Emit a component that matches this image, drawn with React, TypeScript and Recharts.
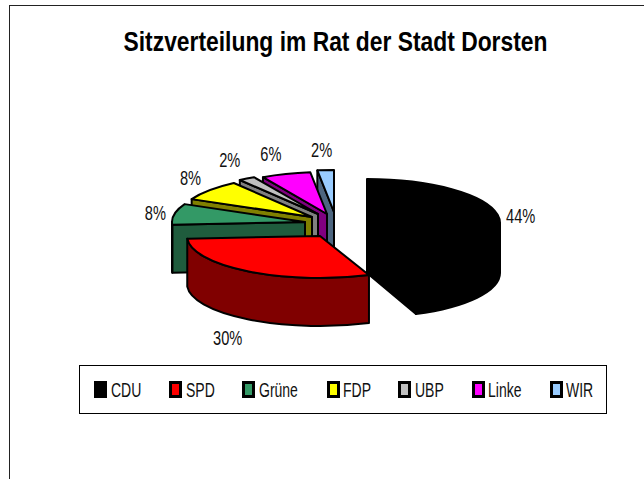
import React from "react";
import { PieChart, Pie, Legend } from "recharts";

const categories = ["CDU", "SPD", "Grüne", "FDP", "UBP", "Linke", "WIR"];
const shares = [44, 30, 8, 8, 2, 6, 2];
const topColors = ["#000000", "#ff0000", "#339966", "#ffff00", "#c0c0c0", "#ff00ff", "#99ccff"];
const wallColors = ["#000000", "#800000", "#1f5c3d", "#808000", "#808080", "#800080", "#4d6680"];
const explode = [[37, 1], [-10, 14], [-25, 0], [-18, -5], [-12, -8], [-3, -8], [4, -10]];
const sliceRy = [44, 42, 42, 42, 42, 42, 42];
const sliceDepth = [50, 48, 48, 48, 48, 48, 48];
const labelNudge = [[23, 1], [-21, 67], [-19, -1], [-19, -12], [-17, -18], [-15, -20], [-4, -20]];
const legendSwatchX = [15, 90, 163, 248, 319, 393, 471];
const legendTextX = [32, 107, 180, 264, 336, 409, 487];

const titleText = "Sitzverteilung im Rat der Stadt Dorsten";
const SANS = '"Liberation Sans", Arial, sans-serif';
const BASE_CX = 330;
const BASE_CY = 222;

// reversed so that back slices paint first
const pieData = categories
  .map((name, i) => ({ name, value: shares[i], idx: i }))
  .reverse();

const rad = (d: number) => (d * Math.PI) / 180;

function Slice(props: any) {
  const { cx, cy, outerRadius: rx, startAngle, endAngle, payload } = props;
  const idx = payload?.idx ?? props.idx;
  const RY = sliceRy[idx];
  const DEPTH = sliceDepth[idx];
  const ox = cx + explode[idx][0];
  const oy = cy + explode[idx][1];
  const sweep = endAngle - startAngle;
  const a0 = ((90 - endAngle) % 360 + 720) % 360;
  const a1 = a0 + sweep;
  const P = (a: number, d = 0) => [ox + rx * Math.sin(rad(a)), oy - RY * Math.cos(rad(a)) + d];
  const f = (p: number[]) => `${p[0].toFixed(2)} ${p[1].toFixed(2)}`;
  const common = { stroke: "#000", strokeWidth: 2, strokeLinejoin: "round" as const };
  const apex = [ox, oy];
  const apexD = [ox, oy + DEPTH];

  const parts: React.ReactNode[] = [];
  if (a0 > 180 && a0 < 360) {
    parts.push(
      <path key="s" {...common} fill={wallColors[idx]}
        d={`M${f(apex)} L${f(P(a0))} L${f(P(a0, DEPTH))} L${f(apexD)} Z`} />
    );
  }
  if (a1 > 0 && a1 <= 180) {
    parts.push(
      <path key="e" {...common} fill={wallColors[idx]}
        d={`M${f(apex)} L${f(P(a1))} L${f(P(a1, DEPTH))} L${f(apexD)} Z`} />
    );
  }
  const r0 = Math.max(a0, 90);
  const r1 = Math.min(a1, 270);
  if (r1 > r0) {
    parts.push(
      <path key="r" {...common} fill={wallColors[idx]}
        d={`M${f(P(r0))} A${rx} ${RY} 0 0 1 ${f(P(r1))} L${f(P(r1, DEPTH))} A${rx} ${RY} 0 0 0 ${f(P(r0, DEPTH))} Z`} />
    );
  }
  parts.push(
    <path key="t" {...common} fill={topColors[idx]}
      d={`M${f(apex)} L${f(P(a0))} A${rx} ${RY} 0 ${sweep > 180 ? 1 : 0} 1 ${f(P(a1))} Z`} />
  );
  return <g>{parts}</g>;
}

function SliceLabel(props: any) {
  const { cx, cy, outerRadius: rx, midAngle, payload } = props;
  const idx = payload?.idx ?? props.idx;
  const a = 90 - midAngle;
  const x = cx + explode[idx][0] + rx * Math.sin(rad(a)) + labelNudge[idx][0];
  const y = cy + explode[idx][1] - sliceRy[idx] * Math.cos(rad(a)) + labelNudge[idx][1];
  return (
    <text transform={`translate(${x} ${y}) scale(0.75 1)`} textAnchor="middle" dominantBaseline="central"
      fontFamily={SANS} fontSize={19.5} fill="#111">
      {`${shares[idx]}%`}
    </text>
  );
}

function LegendBox() {
  return (
    <div style={{ position: "relative", width: 528, height: 49, background: "#fff" }}>
      <div style={{ position: "absolute", inset: 0, border: "1.5px solid #000", boxSizing: "border-box" }} />
      {categories.map((c, i) => (
        <React.Fragment key={c}>
          <div style={{
            position: "absolute", left: legendSwatchX[i], top: 16, width: 13, height: 17,
            boxSizing: "border-box", background: topColors[i], border: "3px solid #000",
          }} />
          <div style={{
            position: "absolute", left: legendTextX[i], top: 15, fontFamily: SANS, fontSize: 20,
            lineHeight: "21px", color: "#111", whiteSpace: "nowrap",
            transform: "scaleX(0.7)", transformOrigin: "left center",
          }}>{c}</div>
        </React.Fragment>
      ))}
    </div>
  );
}

export default function App() {
  return (
    <div style={{ position: "absolute", left: 0, top: 0, width: 644, height: 479, overflow: "hidden", background: "#fff" }}>
      <div style={{ position: "absolute", left: 9, top: 5, width: 700, height: 600, border: "1.5px solid #222", boxSizing: "border-box" }} />
      <div style={{
        position: "absolute", left: 0, width: 671, top: 28, textAlign: "center",
        fontFamily: SANS, fontWeight: "bold", fontSize: 27, lineHeight: "28px", color: "#000", whiteSpace: "nowrap",
        transform: "scaleX(0.846)", transformOrigin: "335.5px 0",
      }}>{titleText}</div>
      <div style={{ position: "absolute", left: 0, top: 0 }}>
        <PieChart width={644} height={479} margin={{ top: 0, right: 0, bottom: 0, left: 0 }}>
          <Pie
            data={pieData}
            dataKey="value"
            nameKey="name"
            cx={BASE_CX}
            cy={BASE_CY}
            outerRadius={133}
            innerRadius={0}
            startAngle={90}
            endAngle={450}
            isAnimationActive={false}
            labelLine={false}
            label={SliceLabel}
            shape={Slice}
          />
          <Legend
            content={<LegendBox />}
            wrapperStyle={{ position: "absolute", left: 79, top: 365, width: 528, height: 49, bottom: "auto" }}
          />
        </PieChart>
      </div>
    </div>
  );
}
